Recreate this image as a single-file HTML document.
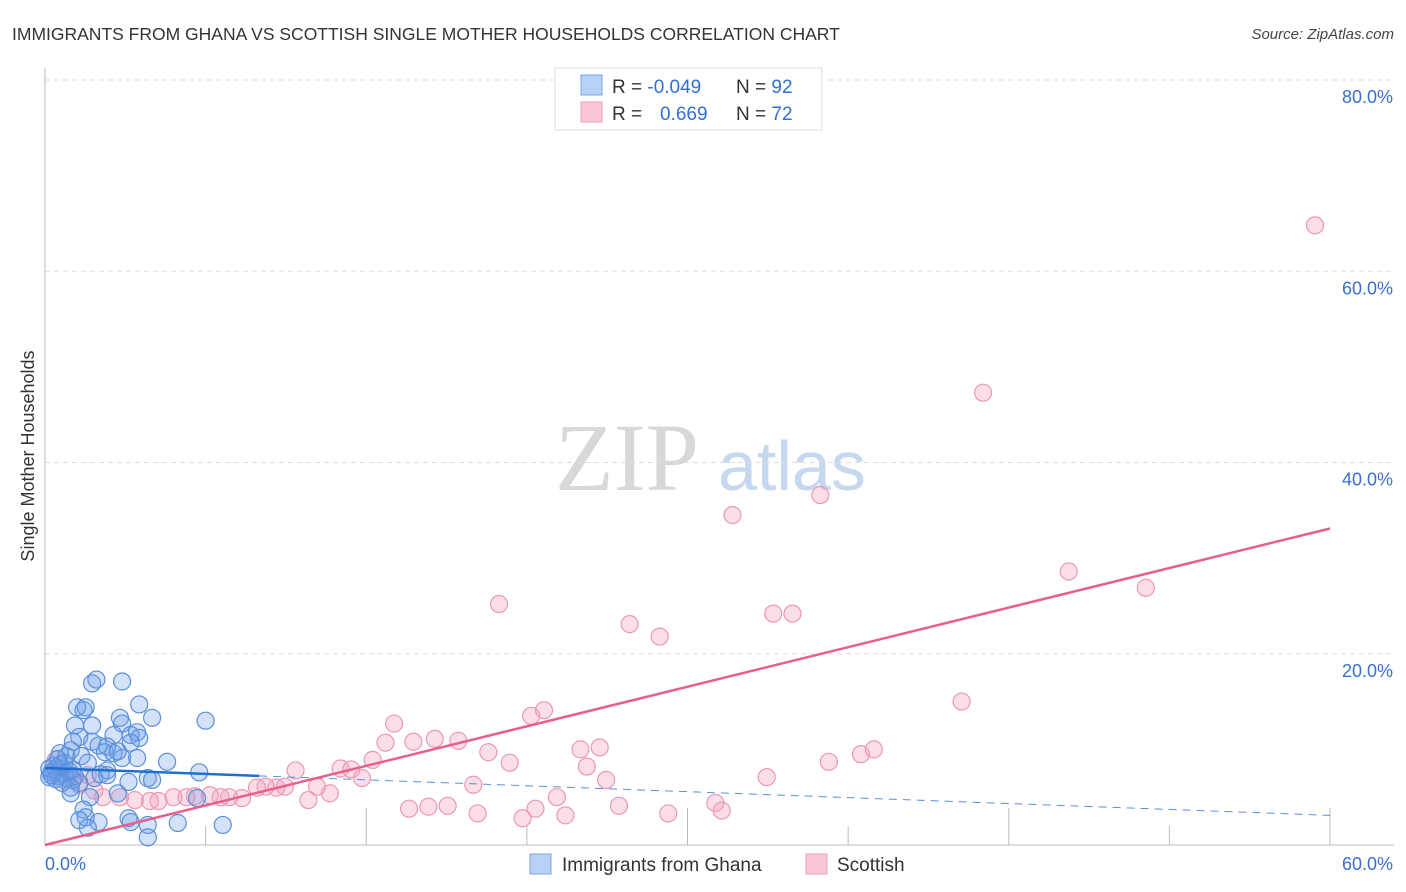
<!DOCTYPE html>
<html><head><meta charset="utf-8"><style>
body{margin:0;background:#fff;font-family:"Liberation Sans",sans-serif;}
svg{display:block}
</style></head><body>
<svg id="chart" width="1406" height="892">
<text x="12" y="40" font-size="17.5" fill="#333">IMMIGRANTS FROM GHANA VS SCOTTISH SINGLE MOTHER HOUSEHOLDS CORRELATION CHART</text>
<text x="1394" y="39" font-size="15" font-style="italic" fill="#444" text-anchor="end">Source: ZipAtlas.com</text>
<text x="0" y="0" transform="translate(34,456) rotate(-90)" font-size="18" fill="#333" text-anchor="middle">Single Mother Households</text>
<g><text x="555" y="490" font-family="Liberation Serif,serif" font-size="96" fill="#d8d8d8">ZIP</text><text x="718" y="490" font-size="70" fill="#c6d8f0">atlas</text></g>
<g id="grid"></g>
<g id="pts"></g>
<g id="lines"></g>
<g>
<rect x="555" y="68" width="267" height="62" fill="#fff" stroke="#ddd"/>
<rect x="581" y="75" width="21" height="20" fill="#b8d2f5" stroke="#7aa7e6"/>
<rect x="581" y="102" width="21" height="20" fill="#f8c6d6" stroke="#eda0b8"/>
<text x="612" y="93" font-size="19" fill="#333">R = <tspan fill="#2f6fd6">-0.049</tspan><tspan x="736">N = </tspan><tspan fill="#2f6fd6">92</tspan></text>
<text x="612" y="120" font-size="19" fill="#333">R = <tspan x="660" fill="#2f6fd6">0.669</tspan><tspan x="736">N = </tspan><tspan fill="#2f6fd6">72</tspan></text>
</g>
<g>
<rect x="530" y="854" width="21" height="20" fill="#b8d2f5" stroke="#7aa7e6"/>
<text x="562" y="871" font-size="19" fill="#333">Immigrants from Ghana</text>
<rect x="806" y="854" width="21" height="20" fill="#f8c6d6" stroke="#eda0b8"/>
<text x="837" y="871" font-size="19" fill="#333">Scottish</text>
</g>
</svg>
<script>
const yTicks=[20,40,60,80];
const yTickLabels=["20.0%","40.0%","60.0%","80.0%"];
const xTickLabels=["0.0%","60.0%"];
const ghanaX=[2.2,2.4,3.6,1.5,1.9,1.8,4.4,5.0,7.5,3.5,3.6,2.2,1.4,1.6,1.3,2.2,2.5,3.2,4.0,4.3,4.4,4.0,2.8,3.2,0.7,1.2,3.6,4.3,5.7,7.2,2.9,2.9,0.4,0.2,0.7,1.3,1.6,3.9,4.8,5.0,1.2,2.1,3.4,7.1,1.8,1.9,1.6,2.5,2.0,3.9,4.0,4.8,6.2,8.3,4.8,0.3,0.5,0.6,0.8,0.4,0.9,1.0,0.2,0.7,1.1,0.5,1.3,0.3,0.9,1.4,0.6,1.0,0.8,1.2,2.3,2.6,2.9,3.4,1.7,2.0];
const ghanaY=[16.9,17.3,17.1,14.4,14.4,14.1,14.7,13.3,13.0,13.3,12.7,12.5,12.5,11.3,10.8,10.8,10.4,11.5,11.5,11.8,11.2,10.7,9.7,9.6,9.6,9.9,9.1,9.1,8.7,7.6,7.8,7.3,7.8,7.1,7.5,6.8,6.5,6.6,7.0,6.8,5.4,5.0,5.4,4.9,3.7,2.9,2.6,2.4,1.8,2.8,2.4,2.1,2.3,2.1,0.8,7.6,7.9,7.2,8.0,8.3,7.4,7.0,8.0,8.4,7.8,6.9,7.9,7.3,8.6,7.2,9.0,9.3,6.5,6.0,7.0,7.4,10.3,9.8,9.3,8.6];
const scotX=[59.3,43.8,36.2,32.1,21.2,47.8,51.4,34.0,34.9,27.3,28.7,42.8,23.3,22.7,16.3,15.9,17.2,18.2,19.3,20.7,21.7,25.0,25.9,25.3,26.2,20.0,23.9,26.8,22.9,24.3,20.2,22.3,17.9,18.8,17.0,29.1,31.3,31.6,33.7,36.6,38.1,38.7,11.7,13.8,14.3,14.8,15.3,13.3,12.3,12.7,11.2,10.8,10.3,9.9,9.2,8.6,8.2,7.7,7.0,6.6,6.0,5.3,4.9,4.2,3.5,2.7,2.3,1.6,0.9,0.5,1.2,2.0];
const scotY=[64.8,47.3,36.6,34.5,25.2,28.6,26.9,24.2,24.2,23.1,21.8,15.0,14.1,13.5,12.7,10.7,10.8,11.1,10.9,9.7,8.6,10.0,10.2,8.2,6.8,6.3,5.0,4.1,3.8,3.1,3.3,2.8,4.0,4.1,3.8,3.3,4.4,3.6,7.1,8.7,9.5,10.0,7.8,8.0,7.9,7.0,8.9,5.4,4.7,6.1,6.1,6.0,6.1,6.0,4.9,5.0,5.0,5.2,5.1,5.0,5.0,4.6,4.6,4.7,5.0,5.0,5.7,6.3,6.8,8.9,7.3,7.3];
const ghanaTrend=[8.05,3.1]; // y at x=0 and x=60
const ghanaSolidEnd=10;
const scotTrend=[0,33.1];
const NS="http://www.w3.org/2000/svg";
const X=v=>45+v*(1285/60), Y=v=>845-v*(765/80);
function mk(t,a,p){const e=document.createElementNS(NS,t);for(const k in a)e.setAttribute(k,a[k]);p.appendChild(e);return e;}
const grid=document.getElementById('grid');
yTicks.forEach((t,i)=>{
 const l=mk('line',{x1:45,x2:1394,y1:Y(t),y2:Y(t),stroke:'#ddd','stroke-dasharray':'5,4'},grid);
 
 
 const tx=mk('text',{x:1393,y:Y(t)+23,'font-size':18,fill:'#3a6fd0','text-anchor':'end'},grid);tx.textContent=yTickLabels[i];
 
 
});
const ax=mk('line',{x1:45,x2:45,y1:68,y2:845,stroke:'#bbb'},grid);


const bx=mk('line',{x1:45,x2:1394,y1:845,y2:845,stroke:'#bbb'},grid);


for(let i=1;i<=8;i++){const v=i*7.5;const tall=(i%2==0);
 const t=mk('line',{x1:X(v),x2:X(v),y1:tall?808:826,y2:845,stroke:'#bbb'},grid);
 
 }
[[0,'start',45],[60,'end',1393]].forEach((d,i)=>{const t=mk('text',{x:d[2],y:870,'font-size':18,fill:'#3a6fd0','text-anchor':d[1]},grid);t.textContent=xTickLabels[i];
 
 });
const pts=document.getElementById('pts');
scotX.forEach((x,i)=>{const c=mk('circle',{cx:X(x),cy:Y(scotY[i]),r:8.5,fill:'rgba(244,160,190,0.35)',stroke:'#ec98b4','stroke-width':1.2},pts);
 
 });
ghanaX.forEach((x,i)=>{const c=mk('circle',{cx:X(x),cy:Y(ghanaY[i]),r:8.5,fill:'rgba(110,160,235,0.3)',stroke:'#5b8fd9','stroke-width':1.2},pts);
 
 });
const lines=document.getElementById('lines');
const gy=x=>ghanaTrend[0]+(ghanaTrend[1]-ghanaTrend[0])*x/60;
const l1=mk('line',{x1:X(0),y1:Y(gy(0)),x2:X(ghanaSolidEnd),y2:Y(gy(ghanaSolidEnd)),stroke:'#1f6fd1','stroke-width':2.5},lines);


const l2=mk('line',{x1:X(ghanaSolidEnd),y1:Y(gy(ghanaSolidEnd)),x2:X(60),y2:Y(gy(60)),stroke:'#5b8fd9','stroke-width':1,'stroke-dasharray':'8,6'},lines);


const l3=mk('line',{x1:X(0),y1:Y(scotTrend[0]),x2:X(60),y2:Y(scotTrend[1]),stroke:'#e8608a','stroke-width':2.5},lines);


</script>
</body></html>
